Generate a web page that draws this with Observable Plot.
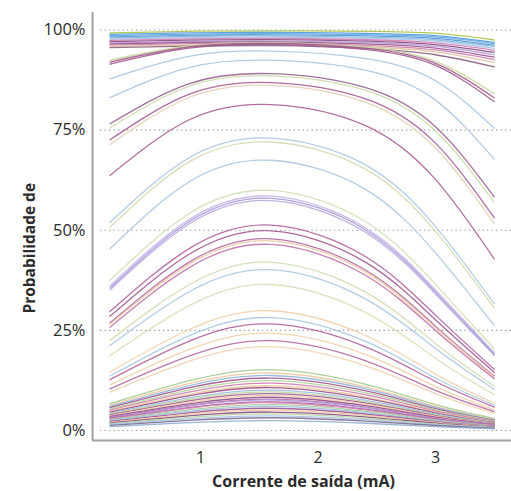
<!DOCTYPE html>
<html><head><meta charset="utf-8">
<script src="https://cdn.jsdelivr.net/npm/d3@7"></script>
<script src="https://cdn.jsdelivr.net/npm/@observablehq/plot@0.6"></script>
<style>body{margin:0;background:#fff;}</style>
</head><body><div id="chart"></div>
<script>
const xPoints = [0.23, 0.9, 1.6, 2.4, 3.0, 3.5];
const yTicks = [0, 25, 50, 75, 100];
const xTicks = [1, 2, 3];
const xTitle = "Corrente de saída (mA)";
const yTitle = "Probabilidade de";

const curveColors = [
  "#a8c545","#4d9bdc","#6aaae2","#4f97d6","#8bb8e2","#a7c5e6","#d47cb4","#8a4a7c","#b79fd8","#9b5188","#c97fb0","#e2c3a0","#8f5f80",
  "#c8d79c","#a25a8e","#9c5b8c","#a9c4e0","#a9c4e0","#98628e","#cbdaa8","#a65c91","#e4cfb4","#a85e93",
  "#abc6e0","#cfdcb0","#abc6e0","#d3dfb6","#b9a9e0","#a996d6","#c4b6e4","#b0609c","#a2598f","#b36aa0","#eccaa6","#c272a6",
  "#d2ddb2","#a9c6e2","#d5e0b8","#efcfaa","#a9c6e2","#b0609c","#efcfaa","#b36aa0","#f0d2b0",
  "#a5c890","#ecc89a","#8fb5dc","#a0568e","#b5d19a","#d07ab2","#eccb9e","#9c4f8a","#9bbde0","#bcd6a0","#a65896","#efcfa4","#93508a",
  "#b0609e","#b4a0dc","#9e5590","#d888bc","#a9cc98","#9cbfe0","#a0568e","#eccb9e","#8c4a80","#b8d4a4","#a5c4e4","#7e6c90","#90aed0"
];

const curveValues = [
  [99.3, 99.68, 99.8, 99.68, 99.2, 97.5],
  [98.9, 99.28, 99.4, 99.18, 98.62, 96.9],
  [98.6, 98.98, 99.1, 98.85, 98.28, 96.6],
  [98.3, 98.68, 98.8, 98.53, 97.93, 96.2],
  [98.0, 98.38, 98.5, 98.21, 97.56, 95.9],
  [97.7, 98.08, 98.2, 97.89, 97.19, 95.4],
  [97.4, 97.78, 97.9, 97.57, 96.76, 94.9],
  [97.1, 97.48, 97.6, 97.22, 96.35, 94.4],
  [96.8, 97.18, 97.3, 96.88, 95.94, 93.8],
  [96.5, 96.88, 97.0, 96.54, 95.48, 93.2],
  [96.2, 96.58, 96.7, 96.17, 95.02, 92.6],
  [95.9, 96.28, 96.4, 95.82, 94.56, 91.9],
  [95.6, 95.98, 96.1, 95.41, 93.82, 90.8],
  [92.5, 96.0, 96.85, 95.74, 92.19, 84.06],
  [92.0, 95.76, 96.63, 95.45, 91.67, 83.09],
  [91.5, 95.49, 96.41, 95.15, 91.16, 82.14],
  [87.8, 93.40, 94.73, 92.92, 87.34, 75.47],
  [83.1, 90.63, 92.46, 89.98, 82.49, 67.76],
  [76.6, 86.55, 89.09, 85.65, 75.82, 58.32],
  [75.6, 85.90, 88.54, 84.97, 74.80, 56.98],
  [72.6, 83.91, 86.87, 82.86, 71.75, 53.12],
  [71.4, 83.08, 86.16, 81.99, 70.52, 51.62],
  [63.7, 77.52, 81.39, 76.19, 62.69, 42.85],
  [52.0, 68.05, 72.99, 66.40, 50.92, 31.65],
  [50.8, 67.00, 72.03, 65.32, 49.73, 30.62],
  [45.4, 62.06, 67.48, 60.28, 44.35, 26.23],
  [37.5, 54.12, 59.94, 52.25, 36.50, 20.41],
  [35.1, 51.5, 57.4, 49.6, 34.1, 18.8],
  [35.6, 52.07, 57.96, 50.20, 34.61, 19.11],
  [36.1, 52.6, 58.5, 50.7, 35.1, 19.5],
  [29.7, 45.36, 51.30, 43.51, 28.80, 15.29],
  [28.5, 43.93, 49.85, 42.09, 27.63, 14.55],
  [26.9, 41.97, 47.85, 40.15, 26.06, 13.59],
  [26.5, 41.49, 47.35, 39.68, 25.67, 13.36],
  [25.8, 40.61, 46.46, 38.82, 24.99, 12.94],
  [22.5, 36.33, 41.99, 34.61, 21.75, 11.04],
  [21.2, 34.59, 40.15, 32.92, 20.49, 10.31],
  [18.7, 31.13, 36.45, 29.55, 18.05, 8.95],
  [14.6, 25.16, 29.90, 23.78, 14.08, 6.81],
  [13.6, 23.63, 28.19, 22.31, 13.10, 6.30],
  [12.7, 22.24, 26.62, 20.96, 12.23, 5.85],
  [11.4, 20.18, 24.29, 19.0, 10.97, 5.21],
  [10.4, 18.57, 22.44, 17.47, 10.0, 4.72],
  [9.6, 17.27, 20.93, 16.22, 9.23, 4.34],
  [6.7, 12.37, 15.19, 11.58, 6.44, 2.98],
  [6.3, 11.68, 14.36, 10.92, 6.05, 2.79],
  [6.0, 11.15, 13.73, 10.43, 5.76, 2.65],
  [5.7, 10.62, 13.10, 9.93, 5.47, 2.52],
  [5.4, 10.09, 12.46, 9.43, 5.18, 2.38],
  [5.1, 9.56, 11.82, 8.93, 4.89, 2.24],
  [4.8, 9.02, 11.17, 8.42, 4.60, 2.11],
  [4.6, 8.66, 10.73, 8.08, 4.41, 2.02],
  [4.3, 8.12, 10.08, 7.58, 4.12, 1.88],
  [4.1, 7.75, 9.64, 7.23, 3.93, 1.79],
  [3.9, 7.39, 9.19, 6.89, 3.74, 1.70],
  [3.7, 7.02, 8.75, 6.55, 3.55, 1.61],
  [3.5, 6.66, 8.30, 6.20, 3.35, 1.53],
  [3.3, 6.29, 7.84, 5.86, 3.16, 1.44],
  [3.2, 6.10, 7.62, 5.69, 3.07, 1.39],
  [3.0, 5.73, 7.16, 5.34, 2.88, 1.30],
  [2.9, 5.55, 6.93, 5.17, 2.78, 1.26],
  [2.7, 5.17, 6.47, 4.82, 2.59, 1.17],
  [2.5, 4.80, 6.01, 4.47, 2.40, 1.08],
  [2.3, 4.42, 5.55, 4.12, 2.21, 1.00],
  [2.1, 4.05, 5.08, 3.76, 2.01, 0.91],
  [1.9, 3.67, 4.61, 3.41, 1.82, 0.82],
  [1.7, 3.29, 4.13, 3.06, 1.63, 0.73],
  [1.5, 2.91, 3.66, 2.70, 1.44, 0.65],
  [1.3, 2.52, 3.18, 2.35, 1.25, 0.56],
  [1.0, 1.95, 2.45, 1.81, 0.96, 0.43]
];

const rows = curveValues.flatMap((vals, i) =>
  vals.map((v, j) => ({curve: i, x: xPoints[j], y: v, color: curveColors[i]})));

const xDomain = [0.149, 3.647];
const axisX0 = 0.081;   // axis line position (offset left of the panel)
const axisYBottom = -2.5; // axis line position (offset below the panel)
const axisYTop = 104.4;

const chart = Plot.plot({
  width: 511,
  height: 491,
  marginLeft: 100,
  marginRight: 0,
  marginTop: 29.5,
  marginBottom: 61,
  style: {fontFamily: "'Open Sans', sans-serif", fontSize: "16px", color: "#2b2b2b", background: "#fff", overflow: "visible"},
  x: {domain: xDomain},
  y: {domain: [0, 100]},
  marks: [
    Plot.ruleY(yTicks, {stroke: "#9a9a9a", strokeDasharray: "1.3,3.2", strokeWidth: 1.2}),
    Plot.line(rows, {x: "x", y: "y", z: "curve", stroke: "color", strokeWidth: 1.3, strokeOpacity: 0.9, curve: "natural"}),
    Plot.ruleX([axisX0], {y1: axisYBottom, y2: axisYTop, stroke: "#a0a0a0", strokeWidth: 2}),
    Plot.ruleY([axisYBottom], {x1: axisX0, x2: xDomain[1], stroke: "#a0a0a0", strokeWidth: 2}),
    Plot.axisY(yTicks, {tickSize: 0, tickPadding: 15, tickFormat: d => d + "%", label: null, fontSize: 16.5}),
    Plot.axisX(xTicks, {tickSize: 0, tickPadding: 21, tickFormat: d => String(d), label: null, fontSize: 16}),
    Plot.text([xTitle], {frameAnchor: "bottom", dx: -2.5, dy: 56, fontWeight: "bold", fontSize: 16}),
    Plot.text([yTitle], {frameAnchor: "left", textAnchor: "middle", rotate: -90, dx: -70, dy: 18, fontWeight: "bold", fontSize: 15.5})
  ]
});
document.getElementById("chart").appendChild(chart);
</script>
</body></html>
